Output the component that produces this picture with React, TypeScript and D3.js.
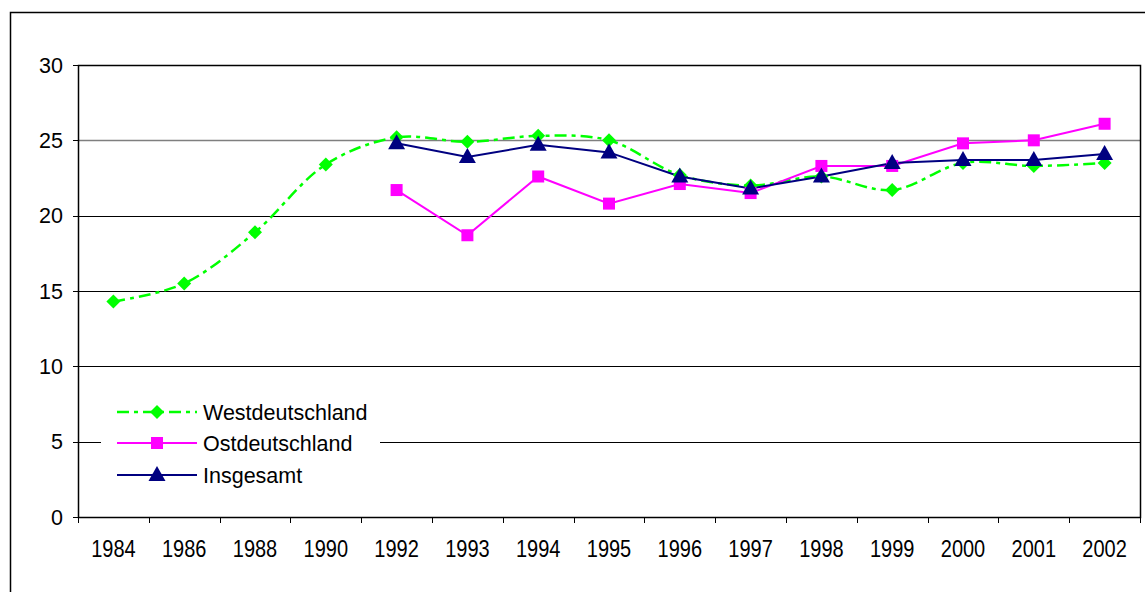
import React from "react";
import * as d3 from "d3";

const years = ["1984","1986","1988","1990","1992","1993","1994","1995","1996","1997","1998","1999","2000","2001","2002"];
const west: (number | null)[] = [14.3,15.5,18.9,23.4,25.2,24.9,25.3,25.0,22.7,22.0,22.6,21.7,23.5,23.3,23.5];
const east: (number | null)[] = [null,null,null,null,21.7,18.7,22.6,20.8,22.1,21.5,23.3,23.3,24.8,25.0,26.1];
const total: (number | null)[] = [null,null,null,null,24.8,23.9,24.7,24.2,22.6,21.8,22.6,23.5,23.7,23.7,24.1];
const yTicks = [0,5,10,15,20,25,30];
const seriesNames = ["Westdeutschland","Ostdeutschland","Insgesamt"];

const W = 1145, H = 592;
const L = 78, R = 1140, T = 65, B = 517;
const font = "'Liberation Sans', Arial, sans-serif";

export default function App() {
  const x = d3.scaleBand<string>().domain(years).range([L, R]).padding(0);
  const cx = (c: string) => (x(c) as number) + x.bandwidth() / 2;
  const y = d3.scaleLinear().domain([0, 30]).range([B, T]);

  const mk = (vals: (number | null)[], curve: d3.CurveFactory) =>
    d3.line<[string, number | null]>()
      .defined(d => d[1] !== null)
      .x(d => cx(d[0]))
      .y(d => y(d[1] as number))
      .curve(curve)(years.map((c, i) => [c, vals[i]]));

  const pts = (vals: (number | null)[]) =>
    years.map((c, i) => ({ c, v: vals[i] })).filter(d => d.v !== null) as { c: string; v: number }[];

  const diamond = (px: number, py: number, s = 7) =>
    `M${px},${py - s}L${px + s},${py}L${px},${py + s}L${px - s},${py}Z`;
  const tri = (px: number, py: number) =>
    `M${px},${py - 9}L${px + 8.5},${py + 6}L${px - 8.5},${py + 6}Z`;

  const green = "#00FF00", magenta = "#FF00FF", navy = "#000080";
  const dash = "12,5,4,5";

  const legendRows = [412, 443, 475];

  return (
    <svg width={W} height={H} style={{ position: "absolute", left: 0, top: 0, background: "#fff" }}>
      <rect x={0} y={0} width={W} height={H} fill="#fff" />
      {/* outer frame */}
      <path d={`M10.5,${H + 5}V12.5H${W + 5}`} fill="none" stroke="#000" strokeWidth={1.5} />
      {/* gridlines */}
      {yTicks.map(t => (
        <line key={t} x1={L} x2={R} y1={Math.round(y(t)) + 0.5} y2={Math.round(y(t)) + 0.5}
          stroke={t === 25 ? "#7f7f7f" : "#000"} strokeWidth={t === 25 ? 1.5 : 1} />
      ))}
      {/* plot border */}
      <rect x={L + 0.5} y={T + 0.5} width={R - L} height={B - T} fill="none" stroke="#000" strokeWidth={1.5} />
      {/* y ticks */}
      {yTicks.map(t => (
        <g key={"yt" + t}>
          <line x1={L - 5} x2={L} y1={Math.round(y(t)) + 0.5} y2={Math.round(y(t)) + 0.5} stroke="#000" />
          <text x={63} y={y(t) + 7.5} textAnchor="end" fontFamily={font} fontSize={21.5} fill="#000">{t}</text>
        </g>
      ))}
      {/* x ticks */}
      {[...years.map(c => x(c) as number), R].map((px, i) => (
        <line key={"xt" + i} x1={Math.round(px) + 0.5} x2={Math.round(px) + 0.5} y1={B} y2={B + 6} stroke="#000" />
      ))}
      {years.map(c => (
        <text key={"xl" + c} transform={`translate(${cx(c)},557) scale(1,1.15)`} textAnchor="middle" fontFamily={font} fontSize={20} fill="#000">{c}</text>
      ))}
      {/* lines */}
      <path d={mk(west, d3.curveCatmullRom) || ""} fill="none" stroke={green} strokeWidth={2.5} strokeDasharray={dash} />
      <path d={mk(east, d3.curveLinear) || ""} fill="none" stroke={magenta} strokeWidth={2} />
      <path d={mk(total, d3.curveLinear) || ""} fill="none" stroke={navy} strokeWidth={2} />
      {pts(west).map(d => <path key={"w" + d.c} d={diamond(cx(d.c), y(d.v))} fill={green} />)}
      {pts(east).map(d => <rect key={"e" + d.c} x={cx(d.c) - 6} y={y(d.v) - 6} width={12} height={12} fill={magenta} />)}
      {pts(total).map(d => <path key={"t" + d.c} d={tri(cx(d.c), y(d.v))} fill={navy} />)}
      {/* legend */}
      <rect x={101} y={398} width={279} height={96} fill="#fff" />
      <line x1={117} x2={197} y1={legendRows[0]} y2={legendRows[0]} stroke={green} strokeWidth={2.5} strokeDasharray={dash} />
      <path d={diamond(157, legendRows[0])} fill={green} />
      <line x1={117} x2={197} y1={legendRows[1]} y2={legendRows[1]} stroke={magenta} strokeWidth={2} />
      <rect x={151} y={legendRows[1] - 6} width={12} height={12} fill={magenta} />
      <line x1={117} x2={197} y1={legendRows[2]} y2={legendRows[2]} stroke={navy} strokeWidth={2} />
      <path d={tri(157, legendRows[2])} fill={navy} />
      {seriesNames.map((n, i) => (
        <text key={n} x={203} y={legendRows[i] + 7.5} fontFamily={font} fontSize={21.5} fill="#000">{n}</text>
      ))}
    </svg>
  );
}
